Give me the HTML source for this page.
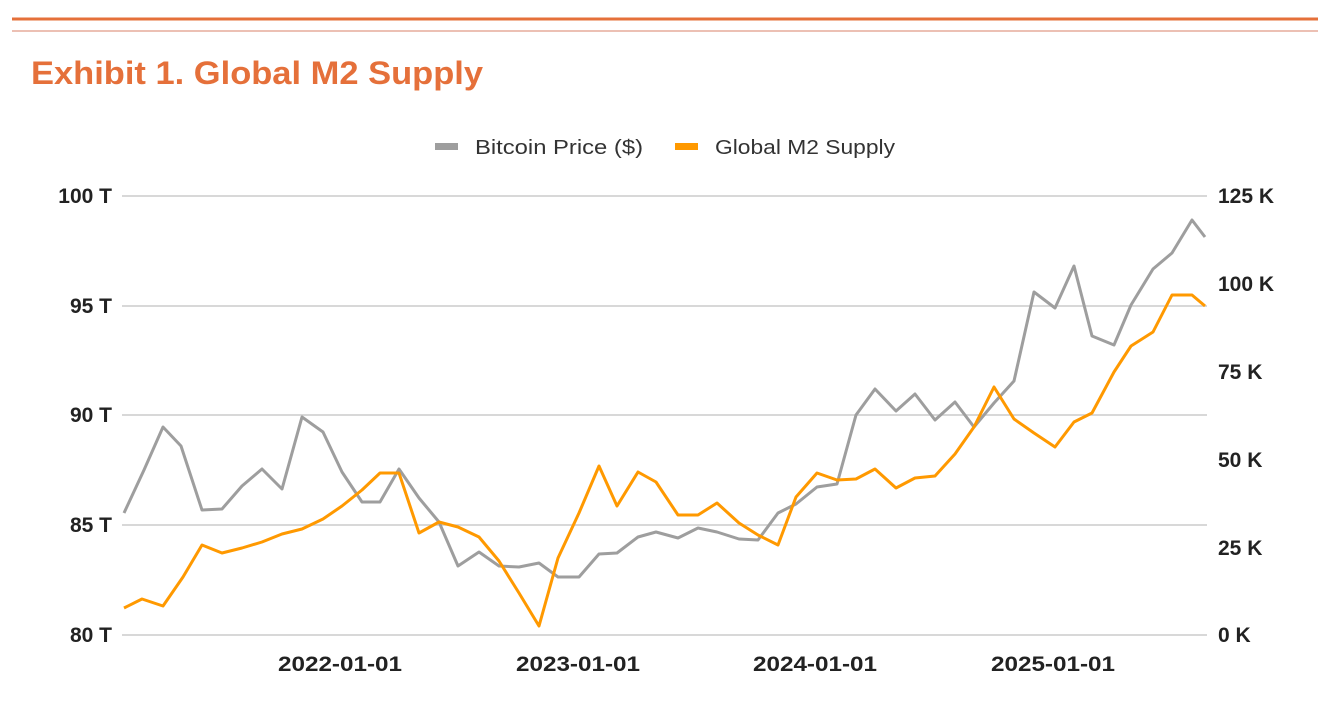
<!DOCTYPE html>
<html><head><meta charset="utf-8"><style>
html,body{margin:0;padding:0;background:#fff;}
svg{display:block;font-family:"Liberation Sans",Arial,sans-serif;}
</style></head><body>
<svg width="1338" height="722" viewBox="0 0 1338 722" xmlns="http://www.w3.org/2000/svg">
<rect width="1338" height="722" fill="#fff"/>
<line x1="12" y1="19" x2="1318" y2="19" stroke="#E5703A" stroke-width="3"/>
<line x1="12" y1="31" x2="1318" y2="31" stroke="#D9826A" stroke-width="1"/>
<text x="31" y="84" font-size="32" font-weight="bold" fill="#E5703A" textLength="452" lengthAdjust="spacingAndGlyphs">Exhibit 1. Global M2 Supply</text>

<rect x="435" y="143" width="23" height="7" fill="#9E9E9E"/>
<text x="475" y="154" font-size="20" fill="#333" textLength="168" lengthAdjust="spacingAndGlyphs">Bitcoin Price ($)</text>
<rect x="675" y="143" width="23" height="7" fill="#FF9900"/>
<text x="715" y="154" font-size="20" fill="#333" textLength="180" lengthAdjust="spacingAndGlyphs">Global M2 Supply</text>

<g stroke="#CCCCCC" stroke-width="1.5">
<line x1="122" y1="196" x2="1207" y2="196"/>
<line x1="122" y1="306" x2="1207" y2="306"/>
<line x1="122" y1="415" x2="1207" y2="415"/>
<line x1="122" y1="525" x2="1207" y2="525"/>
<line x1="122" y1="635" x2="1207" y2="635"/>
</g>

<g font-size="21" font-weight="bold" fill="#222" text-anchor="end">
<text x="112" y="203">100 T</text>
<text x="112" y="313">95 T</text>
<text x="112" y="422">90 T</text>
<text x="112" y="532">85 T</text>
<text x="112" y="642">80 T</text>
</g>
<g font-size="21" font-weight="bold" fill="#222" text-anchor="start">
<text x="1218" y="203">125 K</text>
<text x="1218" y="291">100 K</text>
<text x="1218" y="379">75 K</text>
<text x="1218" y="467">50 K</text>
<text x="1218" y="555">25 K</text>
<text x="1218" y="642">0 K</text>
</g>
<g font-size="21" font-weight="bold" fill="#222" text-anchor="middle">
<text x="340" y="671" textLength="124" lengthAdjust="spacingAndGlyphs">2022-01-01</text>
<text x="578" y="671" textLength="124" lengthAdjust="spacingAndGlyphs">2023-01-01</text>
<text x="815" y="671" textLength="124" lengthAdjust="spacingAndGlyphs">2024-01-01</text>
<text x="1053" y="671" textLength="124" lengthAdjust="spacingAndGlyphs">2025-01-01</text>
</g>

<polyline fill="none" stroke="#9E9E9E" stroke-width="3" stroke-linejoin="round" points="124,513 144,470 163,427 181,446 202,510 222,509 242,486 262,469 282,489 302,417 323,432 342,472 362,502 380,502 399,469 419,498 439,522 458,566 479,552 499,566 519,567 539,563 558,577 579,577 599,554 617,553 638,537 656,532 678,538 698,528 717,532 739,539 758,540 778,513 796,504 817,487 837,484 856,415 875,389 896,411 915,394 935,420 955,402 974,427 994,403 1014,381 1034,292 1055,308 1074,266 1092,336 1114,345 1131,305 1153,269 1172,253 1192,220 1205,237"/>

<polyline fill="none" stroke="#FF9900" stroke-width="3" stroke-linejoin="round" points="124,608 142,599 163,606 183,577 202,545 222,553 242,548 262,542 282,534 302,529 323,519 342,506 362,490 380,473 399,473 419,533 439,522 458,527 479,537 499,561 519,593 539,626 558,558 579,513 599,466 617,506 638,472 656,482 678,515 698,515 717,503 739,523 758,535 778,545 796,497 817,473 837,480 856,479 875,469 896,488 915,478 935,476 955,454 974,427 994,387 1014,419 1034,433 1055,447 1074,422 1092,413 1114,372 1131,346 1153,332 1172,295 1192,295 1205,306"/>
</svg>
</body></html>
